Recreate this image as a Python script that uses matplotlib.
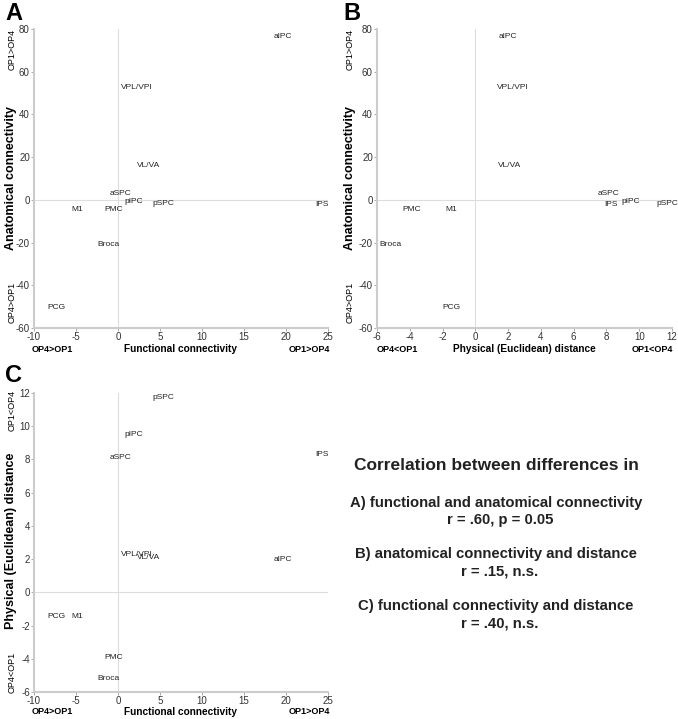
import matplotlib
matplotlib.use("Agg")
import matplotlib.pyplot as plt

plt.rcParams["font.family"] = ["Liberation Sans", "DejaVu Sans"]
plt.rcParams["axes.unicode_minus"] = False

regions = ["aIPC", "VPL/VPI", "VL/VA", "aSPC", "pIPC", "pSPC", "M1", "PMC", "IPS", "Broca", "PCG"]
functional = [19.6, 2.3, 3.7, 0.3, 1.9, 5.4, -4.9, -0.5, 24.3, -1.1, -7.3]
anatomical = [76.7, 52.8, 15.9, 2.8, -1.0, -1.5, -4.3, -4.7, -2.4, -21.1, -50.6]
distance = [2.0, 2.3, 2.1, 8.1, 9.5, 11.7, -1.45, -3.9, 8.3, -5.2, -1.45]

func_ticks = [-10, -5, 0, 5, 10, 15, 20, 25]
anat_ticks = [-60, -40, -20, 0, 20, 40, 60, 80]
dist_ticks = [-6, -4, -2, 0, 2, 4, 6, 8, 10, 12]

W, H = 678, 719
fig = plt.figure(figsize=(W / 100, H / 100), dpi=100)


def box(l, t, r, b):
    return [l / W, 1 - b / H, (r - l) / W, (b - t) / H]


def ftext(x, y, s, **kw):
    fig.text(x / W, 1 - y / H, s, ha="center", va="center", **kw)


def panel(rect, xs, ys, xticks, yticks):
    ax = fig.add_axes(rect)
    ax.set_xlim(xticks[0], xticks[-1])
    ax.set_ylim(yticks[0], yticks[-1])
    ax.set_xticks(xticks)
    ax.set_yticks(yticks)
    ax.axhline(0, color="#dddddd", lw=0.8, zorder=0)
    ax.axvline(0, color="#dddddd", lw=0.8, zorder=0)
    for name, x, y in zip(regions, xs, ys):
        ax.text(x, y, name, fontsize=6, ha="center", va="center", color="#222222")
    for s in ["top", "right"]:
        ax.spines[s].set_visible(False)
    for s in ["left", "bottom"]:
        ax.spines[s].set_color("#cccccc")
        ax.spines[s].set_linewidth(1.5)
    ax.tick_params(direction="out", length=2, width=0.6, color="#999999",
                   labelsize=7, labelcolor="#333333", pad=1)
    return ax


# A
panel(box(34, 29, 328, 328), functional, anatomical, func_ticks, anat_ticks)
ftext(14, 14, "A", fontsize=17, fontweight="bold")
ftext(11, 178, "Anatomical connectivity", fontsize=9, fontweight="bold", rotation=90)
ftext(12, 49, "OP1>OP4", fontsize=6.5, rotation=90)
ftext(12, 302, "OP4>OP1", fontsize=6.5, rotation=90)
ftext(180, 349, "Functional connectivity", fontsize=7.3, fontweight="bold")
ftext(52, 349, "OP4>OP1", fontsize=6.5, fontweight="bold")
ftext(309, 349, "OP1>OP4", fontsize=6.5, fontweight="bold")

# B
panel(box(377, 29, 672, 328), distance, anatomical, dist_ticks, anat_ticks)
ftext(352, 14, "B", fontsize=17, fontweight="bold")
ftext(350, 178, "Anatomical connectivity", fontsize=9, fontweight="bold", rotation=90)
ftext(350, 49, "OP1>OP4", fontsize=6.5, rotation=90)
ftext(350, 302, "OP4>OP1", fontsize=6.5, rotation=90)
ftext(524, 349, "Physical (Euclidean) distance", fontsize=7.3, fontweight="bold")
ftext(397, 349, "OP4<OP1", fontsize=6.5, fontweight="bold")
ftext(652, 349, "OP1<OP4", fontsize=6.5, fontweight="bold")

# C
panel(box(34, 393, 328, 692), functional, distance, func_ticks, dist_ticks)
ftext(14, 376, "C", fontsize=17, fontweight="bold")
ftext(11, 541, "Physical (Euclidean) distance", fontsize=9, fontweight="bold", rotation=90)
ftext(12, 410, "OP1<OP4", fontsize=6.5, rotation=90)
ftext(12, 672, "OP4<OP1", fontsize=6.5, rotation=90)
ftext(180, 712, "Functional connectivity", fontsize=7.3, fontweight="bold")
ftext(52, 712, "OP4>OP1", fontsize=6.5, fontweight="bold")
ftext(309, 712, "OP1>OP4", fontsize=6.5, fontweight="bold")

# correlation summary
ftext(496, 466, "Correlation between differences in", fontsize=12.5, fontweight="bold", color="#222222")
ftext(496, 503, "A) functional and anatomical connectivity", fontsize=10.7, fontweight="bold", color="#222222")
ftext(500, 520, "r = .60, p = 0.05", fontsize=10.7, fontweight="bold", color="#222222")
ftext(496, 554, "B) anatomical connectivity and distance", fontsize=10.7, fontweight="bold", color="#222222")
ftext(500, 572, "r = .15, n.s.", fontsize=10.7, fontweight="bold", color="#222222")
ftext(496, 606, "C) functional connectivity and distance", fontsize=10.7, fontweight="bold", color="#222222")
ftext(500, 623, "r = .40, n.s.", fontsize=10.7, fontweight="bold", color="#222222")

fig.savefig("out.png", dpi=100)
